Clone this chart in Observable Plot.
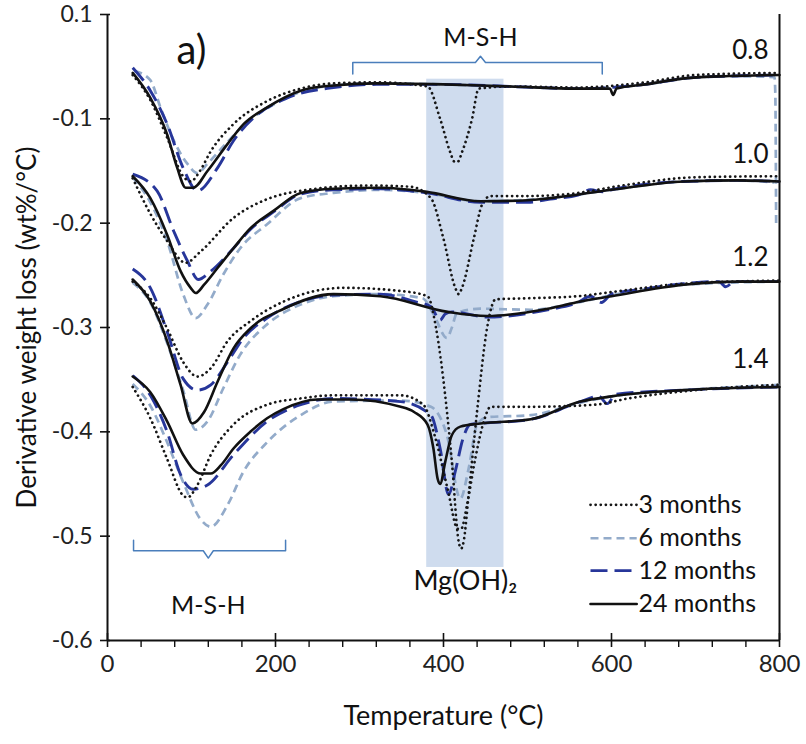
<!DOCTYPE html>
<html>
<head>
<meta charset="utf-8">
<script src="https://cdn.jsdelivr.net/npm/d3@7"></script>
<script src="https://cdn.jsdelivr.net/npm/@observablehq/plot@0.6"></script>
<style>
  html, body { margin: 0; padding: 0; background: #fff; }
  #chart svg { font-family: Lato, "Open Sans", sans-serif; }
</style>
</head>
<body>
<div id="chart"></div>
<script>
// ---------- axis ticks ----------
const xTicks = [0, 200, 400, 600, 800];
const xMinorTicks = [40, 80, 120, 160, 240, 280, 320, 360, 440, 480, 520, 560, 640, 680, 720, 760];
const yTicks = [0, -0.1, -0.2, -0.3, -0.4, -0.5, -0.6];
const yTickLabels = ["0.1", "-0.1", "-0.2", "-0.3", "-0.4", "-0.5", "-0.6"];

// ---------- categories ----------
const ages = ["3 months", "6 months", "12 months", "24 months"];
const ratios = ["0.8", "1.0", "1.2", "1.4"];

// ---------- series values [temperature °C, derivative weight loss] ----------
// Mg/Si = 0.8
const r08_3m = [[30,-0.058],[51,-0.082],[71,-0.118],[90,-0.155],[99,-0.160],[110,-0.150],[123,-0.131],[150,-0.105],[190,-0.083],[230,-0.071],[269,-0.066],[320,-0.065],[381,-0.069],[396,-0.100],[408,-0.132],[413,-0.141],[417,-0.141],[422,-0.132],[434,-0.100],[442,-0.071],[480,-0.069],[560,-0.070],[640,-0.065],[700,-0.058],[800,-0.056]];
const r08_6m = [[32,-0.054],[51,-0.063],[63,-0.089],[79,-0.121],[95,-0.143],[107,-0.152],[119,-0.143],[143,-0.122],[165,-0.104],[190,-0.090],[230,-0.074],[269,-0.068],[320,-0.066],[400,-0.067],[480,-0.069],[560,-0.071],[640,-0.067],[690,-0.061],[740,-0.059],[794,-0.060],[795,-0.075],[796,-0.200]];
const r08_12m = [[30,-0.051],[51,-0.073],[71,-0.105],[90,-0.147],[107,-0.169],[131,-0.147],[150,-0.121],[174,-0.099],[214,-0.080],[269,-0.070],[320,-0.067],[400,-0.067],[480,-0.069],[560,-0.071],[640,-0.067],[690,-0.061],[740,-0.059],[800,-0.058]];
const r08_24m = [[30,-0.056],[51,-0.080],[71,-0.115],[83,-0.147],[93,-0.166],[102,-0.166],[119,-0.150],[143,-0.124],[162,-0.105],[190,-0.089],[230,-0.073],[269,-0.068],[320,-0.066],[400,-0.067],[480,-0.069],[560,-0.071],[598,-0.071],[602,-0.077],[606,-0.071],[640,-0.067],[690,-0.061],[740,-0.059],[800,-0.058]];

// Mg/Si = 1.0
const r10_3m = [[30,-0.157],[51,-0.191],[71,-0.217],[93,-0.238],[111,-0.227],[150,-0.195],[190,-0.177],[230,-0.169],[310,-0.164],[360,-0.165],[385,-0.176],[400,-0.215],[414,-0.262],[418,-0.268],[422,-0.262],[436,-0.215],[446,-0.182],[456,-0.174],[500,-0.174],[550,-0.172],[620,-0.163],[700,-0.156],[800,-0.155]];
const r10_6m = [[30,-0.156],[51,-0.180],[71,-0.217],[90,-0.268],[105,-0.291],[119,-0.278],[138,-0.249],[158,-0.224],[190,-0.201],[230,-0.176],[269,-0.171],[325,-0.168],[380,-0.171],[444,-0.179],[527,-0.176],[600,-0.168],[686,-0.160],[750,-0.159],[794,-0.161]];
const r10_12m = [[30,-0.153],[59,-0.169],[79,-0.208],[95,-0.236],[108,-0.254],[123,-0.246],[150,-0.224],[170,-0.206],[198,-0.189],[230,-0.172],[269,-0.168],[325,-0.167],[380,-0.171],[444,-0.180],[500,-0.180],[527,-0.177],[560,-0.173],[575,-0.168],[590,-0.170],[600,-0.168],[686,-0.160],[750,-0.159],[800,-0.160]];
const r10_24m = [[30,-0.155],[51,-0.176],[71,-0.211],[87,-0.246],[99,-0.262],[105,-0.267],[115,-0.259],[131,-0.243],[150,-0.224],[170,-0.205],[198,-0.188],[230,-0.171],[269,-0.167],[325,-0.166],[380,-0.170],[444,-0.179],[500,-0.178],[527,-0.176],[600,-0.168],[686,-0.160],[750,-0.159],[800,-0.160]];

// Mg/Si = 1.2
const r12_3m = [[30,-0.256],[51,-0.272],[71,-0.301],[90,-0.333],[107,-0.347],[123,-0.339],[143,-0.313],[170,-0.294],[210,-0.275],[281,-0.262],[349,-0.265],[381,-0.270],[391,-0.300],[402,-0.365],[410,-0.429],[418,-0.505],[421,-0.512],[424,-0.505],[430,-0.460],[440,-0.380],[452,-0.300],[462,-0.273],[500,-0.272],[560,-0.270],[600,-0.266],[686,-0.258],[800,-0.255]];
const r12_6m = [[30,-0.257],[51,-0.276],[71,-0.315],[90,-0.360],[105,-0.398],[119,-0.390],[138,-0.358],[158,-0.326],[190,-0.297],[230,-0.278],[269,-0.270],[325,-0.268],[375,-0.272],[388,-0.287],[404,-0.310],[410,-0.300],[416,-0.286],[444,-0.282],[504,-0.283],[560,-0.276],[600,-0.269],[686,-0.259],[800,-0.256]];
const r12_12m = [[30,-0.244],[51,-0.262],[71,-0.304],[90,-0.349],[107,-0.360],[123,-0.355],[143,-0.333],[162,-0.310],[190,-0.291],[230,-0.275],[269,-0.269],[325,-0.268],[365,-0.275],[385,-0.280],[396,-0.293],[402,-0.287],[410,-0.285],[452,-0.290],[524,-0.283],[560,-0.276],[575,-0.270],[588,-0.276],[600,-0.268],[640,-0.263],[686,-0.258],[728,-0.256],[736,-0.261],[746,-0.256],[800,-0.256]];
const r12_24m = [[30,-0.254],[51,-0.275],[71,-0.313],[87,-0.355],[101,-0.392],[115,-0.381],[131,-0.352],[150,-0.320],[170,-0.301],[210,-0.282],[269,-0.268],[325,-0.270],[405,-0.285],[452,-0.289],[524,-0.282],[563,-0.275],[600,-0.270],[686,-0.259],[750,-0.256],[800,-0.256]];

// Mg/Si = 1.4
const r14_3m = [[30,-0.357],[51,-0.387],[71,-0.426],[90,-0.461],[95,-0.463],[107,-0.451],[123,-0.422],[150,-0.393],[190,-0.374],[230,-0.368],[269,-0.365],[349,-0.365],[376,-0.374],[390,-0.405],[405,-0.455],[417,-0.493],[421,-0.493],[428,-0.470],[438,-0.425],[448,-0.390],[456,-0.376],[504,-0.376],[580,-0.374],[620,-0.368],[700,-0.360],[800,-0.355]];
const r14_6m = [[30,-0.354],[51,-0.375],[71,-0.410],[90,-0.448],[111,-0.484],[123,-0.491],[143,-0.470],[162,-0.438],[190,-0.410],[230,-0.384],[269,-0.371],[349,-0.370],[385,-0.376],[404,-0.403],[420,-0.464],[430,-0.435],[440,-0.393],[452,-0.386],[504,-0.384],[563,-0.372],[600,-0.366],[686,-0.360],[800,-0.355]];
const r14_12m = [[30,-0.346],[51,-0.365],[71,-0.400],[87,-0.441],[102,-0.455],[119,-0.451],[150,-0.422],[190,-0.390],[230,-0.374],[269,-0.368],[349,-0.371],[385,-0.384],[396,-0.416],[406,-0.460],[414,-0.438],[423,-0.407],[432,-0.393],[444,-0.392],[504,-0.388],[563,-0.371],[585,-0.366],[595,-0.373],[605,-0.364],[686,-0.360],[800,-0.357]];
const r14_24m = [[30,-0.347],[51,-0.362],[71,-0.390],[90,-0.422],[111,-0.440],[123,-0.440],[135,-0.432],[150,-0.416],[170,-0.400],[190,-0.387],[210,-0.378],[250,-0.369],[289,-0.369],[349,-0.376],[365,-0.381],[381,-0.393],[388,-0.416],[393,-0.445],[396,-0.450],[402,-0.429],[410,-0.403],[420,-0.395],[444,-0.392],[504,-0.388],[563,-0.371],[600,-0.366],[686,-0.360],[800,-0.357]];

// ---------- annotations ----------
const mgRegion = [{x1: 380, x2: 472, y1: -0.062, y2: -0.530}];
const bracketTop = [[292,-0.057],[292,-0.046],[438,-0.046],[444,-0.040],[450,-0.046],[589,-0.046],[589,-0.057]];
const bracketBottom = [[31,-0.504],[31,-0.514],[114,-0.514],[120,-0.521],[126,-0.514],[212,-0.514],[212,-0.504]];
const ratioLabelPos = [[787,-0.035],[787,-0.134],[787,-0.233],[787,-0.331]];
const legendRowsY = [-0.470, -0.502, -0.533, -0.565];

// ---------- assemble ----------
const table = {
  "0.8": {"3 months": r08_3m, "6 months": r08_6m, "12 months": r08_12m, "24 months": r08_24m},
  "1.0": {"3 months": r10_3m, "6 months": r10_6m, "12 months": r10_12m, "24 months": r10_24m},
  "1.2": {"3 months": r12_3m, "6 months": r12_6m, "12 months": r12_12m, "24 months": r12_24m},
  "1.4": {"3 months": r14_3m, "6 months": r14_6m, "12 months": r14_12m, "24 months": r14_24m}
};

const styles = {
  "3 months":  {stroke: "#161616", strokeWidth: 2.7, strokeDasharray: "0.1 5", strokeLinecap: "round"},
  "6 months":  {stroke: "#93abca", strokeWidth: 2.7, strokeDasharray: "8 5", strokeLinecap: "butt"},
  "12 months": {stroke: "#27369a", strokeWidth: 2.9, strokeDasharray: "17 7", strokeLinecap: "butt"},
  "24 months": {stroke: "#111111", strokeWidth: 2.6}
};
const drawOrder = ["6 months", "12 months", "24 months", "3 months"];

const lineMarks = [];
for (const age of drawOrder) {
  for (const r of ratios) {
    lineMarks.push(Plot.line(table[r][age], {x: d => d[0], y: d => d[1], curve: "monotone-x", ...styles[age]}));
  }
}

const legendMarks = [];
ages.forEach((age, i) => {
  const y = legendRowsY[i];
  legendMarks.push(Plot.line([[575, y], [630, y]], {x: d => d[0], y: d => d[1], ...styles[age]}));
});
legendMarks.push(Plot.text(ages, {x: 632, y: (d, i) => legendRowsY[i], text: d => d, textAnchor: "start", fontSize: 25, fill: "#111"}));

const labelMap = new Map(yTicks.map((t, i) => [t, yTickLabels[i]]));
const axisColor = "#111";
const bracketColor = "#4a7ebb";

const chart = Plot.plot({
  width: 806,
  height: 744,
  marginLeft: 107,
  marginRight: 27,
  marginTop: 14,
  marginBottom: 104,
  x: {domain: [0, 800], label: null},
  y: {domain: [-0.6, 0], label: null},
  style: {fontFamily: "Lato, 'Open Sans', sans-serif", background: "#fff", color: "#111"},
  marks: [
    Plot.rect(mgRegion, {x1: "x1", x2: "x2", y1: "y1", y2: "y2", fill: "#cfdcee"}),
    // axes
    Plot.axisX({ticks: xTicks, tickSize: 0, tickPadding: 14, fontSize: 24, fill: "#222", tickFormat: d => String(d)}),
    Plot.axisY({ticks: yTicks, tickSize: 0, tickPadding: 15, fontSize: 23, fill: "#222", tickFormat: d => labelMap.get(d)}),
    Plot.ruleX(xTicks, {x: d => d, y1: -0.6, y2: -0.6, insetTop: -7, insetBottom: -7, stroke: axisColor, strokeWidth: 1.6}),
    Plot.ruleX(xMinorTicks, {x: d => d, y1: -0.6, y2: -0.6, insetBottom: -7, stroke: axisColor, strokeWidth: 1.4}),
    Plot.ruleY(yTicks, {y: d => d, x1: 0, x2: 0, insetLeft: -7, insetRight: -3, stroke: axisColor, strokeWidth: 1.6}),
    Plot.ruleX([0], {y1: -0.6, y2: 0, stroke: axisColor, strokeWidth: 2}),
    Plot.ruleX([800], {y1: -0.6, y2: 0, stroke: axisColor, strokeWidth: 2}),
    Plot.ruleY([-0.6], {x1: 0, x2: 800, stroke: axisColor, strokeWidth: 2}),
    // axis titles
    Plot.text(["Derivative weight loss (wt%/°C)"], {frameAnchor: "left", textAnchor: "middle", dx: -80, rotate: -90, fontSize: 26, fill: "#111"}),
    Plot.text(["Temperature (°C)"], {frameAnchor: "bottom", textAnchor: "middle", dy: 84, fontSize: 27, fill: "#111"}),
    // brackets and annotations
    Plot.line(bracketTop, {x: d => d[0], y: d => d[1], stroke: bracketColor, strokeWidth: 1.5}),
    Plot.line(bracketBottom, {x: d => d[0], y: d => d[1], stroke: bracketColor, strokeWidth: 1.5}),
    Plot.text(["M-S-H"], {x: 444, y: -0.023, fontSize: 25, fill: "#111"}),
    Plot.text(["M-S-H"], {x: 120, y: -0.567, fontSize: 25, fill: "#111"}),
    Plot.text(["Mg(OH)₂"], {x: 426, y: -0.543, fontSize: 27, fill: "#111"}),
    Plot.text(["a)"], {x: 100, y: -0.035, fontSize: 40, fill: "#111"}),
    Plot.text(ratios, {x: (d, i) => ratioLabelPos[i][0], y: (d, i) => ratioLabelPos[i][1], text: d => d, textAnchor: "end", fontSize: 26, fill: "#111"}),
    // data
    ...lineMarks,
    ...legendMarks
  ]
});

document.getElementById("chart").appendChild(chart);
</script>
</body>
</html>
